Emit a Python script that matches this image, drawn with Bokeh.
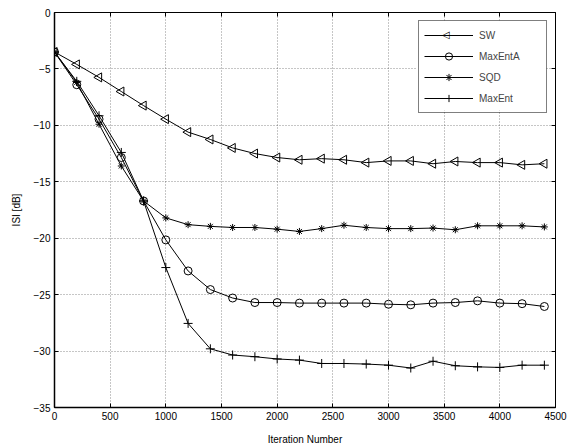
import numpy as np
from bokeh.plotting import figure
from bokeh.models import (FixedTicker, LinearAxis, CustomJSTickFormatter, Legend,
                          Range1d, Label, BoxAnnotation)
from bokeh.embed import file_html
from bokeh.resources import INLINE

# ---- data ----
iterations = [0, 200, 400, 600, 800, 1000, 1200, 1400, 1600, 1800, 2000, 2200,
              2400, 2600, 2800, 3000, 3200, 3400, 3600, 3800, 4000, 4200, 4400]

sw = [-3.5, -4.6, -5.75, -7.0, -8.25, -9.45, -10.6, -11.25, -12.0, -12.5, -12.85,
      -13.05, -12.95, -13.05, -13.3, -13.15, -13.15, -13.4, -13.2, -13.3, -13.3,
      -13.5, -13.4]
maxenta = [-3.5, -6.4, -9.45, -12.85, -16.7, -20.15, -22.9, -24.55, -25.3, -25.7,
           -25.7, -25.75, -25.75, -25.75, -25.75, -25.85, -25.9, -25.75, -25.7,
           -25.55, -25.75, -25.8, -26.05]
sqd = [-3.5, -6.2, -9.9, -13.6, -16.7, -18.2, -18.8, -18.95, -19.05, -19.05, -19.2,
       -19.4, -19.15, -18.85, -19.05, -19.15, -19.15, -19.1, -19.25, -18.9, -18.9,
       -18.9, -19.0]
maxent = [-3.5, -6.1, -9.15, -12.4, -16.7, -22.6, -27.55, -29.8, -30.35, -30.5,
          -30.7, -30.8, -31.1, -31.1, -31.15, -31.25, -31.5, -30.9, -31.3, -31.4,
          -31.45, -31.25, -31.25]

x_ticks = [0, 500, 1000, 1500, 2000, 2500, 3000, 3500, 4000, 4500]
y_ticks = [-35, -30, -25, -20, -15, -10, -5, 0]

FONT = "Liberation Sans"

p = figure(frame_width=501, frame_height=395,
           min_border_left=54, min_border_right=12, min_border_top=12, min_border_bottom=40,
           x_range=Range1d(0, 4500), y_range=Range1d(-35, 0),
           output_backend="svg", toolbar_location=None)
p.background_fill_color = "white"
p.border_fill_color = "white"
p.outline_line_color = "black"
p.outline_line_width = 1

minus_fmt = CustomJSTickFormatter(code="return tick < 0 ? '\\u2212' + (-tick) : String(tick);")
blank_fmt = CustomJSTickFormatter(code="return '';")

for ax in (p.xaxis[0], p.yaxis[0]):
    ax.major_tick_in = 4
    ax.major_tick_out = 0
    ax.minor_tick_in = 0
    ax.minor_tick_out = 0
    ax.axis_line_color = "black"
    ax.axis_line_width = 1.5
    ax.major_tick_line_color = "black"
    ax.major_label_text_font = FONT
    ax.major_label_text_font_size = "10px"
    ax.major_label_text_color = "black"
    ax.axis_label_text_font = FONT
    ax.axis_label_text_font_size = "10px"
    ax.axis_label_text_font_style = "normal"
    ax.axis_label_text_color = "black"

p.xaxis[0].ticker = FixedTicker(ticks=x_ticks)
p.yaxis[0].ticker = FixedTicker(ticks=y_ticks)
p.yaxis[0].formatter = minus_fmt
p.xaxis[0].axis_label = "Iteration Number"
p.yaxis[0].axis_label = "ISI [dB]"
p.xaxis[0].major_label_standoff = 4
p.xaxis[0].axis_label_standoff = 11
p.yaxis[0].major_label_standoff = 4
p.yaxis[0].axis_label_standoff = 9

# inward ticks on top and right (box on)
top = LinearAxis(ticker=FixedTicker(ticks=x_ticks), formatter=blank_fmt)
right = LinearAxis(ticker=FixedTicker(ticks=y_ticks), formatter=blank_fmt)
for ax in (top, right):
    ax.major_tick_in = 4
    ax.major_tick_out = 0
    ax.minor_tick_in = 0
    ax.minor_tick_out = 0
    ax.axis_line_color = None
    ax.major_tick_line_color = "black"
    ax.major_label_text_font_size = "0px"
    ax.major_label_standoff = 0
p.add_layout(top, "above")
p.add_layout(right, "right")

for g in (p.xgrid[0], p.ygrid[0]):
    g.grid_line_color = "black"
    g.grid_line_alpha = 0.45
    g.grid_line_dash = "1 2"
    g.grid_line_width = 1
p.xgrid[0].ticker = FixedTicker(ticks=x_ticks)
p.ygrid[0].ticker = FixedTicker(ticks=y_ticks)

series = [
    ("SW", sw, dict(marker="triangle", size=9, angle=np.pi / 2)),
    ("MaxEntA", maxenta, dict(marker="circle", size=8)),
    ("SQD", sqd, dict(marker="asterisk", size=7)),
    ("MaxEnt", maxent, dict(marker="cross", size=9)),
]

items = []
for name, ys, mk in series:
    ln = p.line(iterations, ys, line_color="black", line_width=1)
    sc = p.scatter(iterations, ys, line_color="black", fill_color=None, line_width=1, **mk)
    # legend markers cannot be rotated: SW legend shows only its line, the
    # left-pointing marker is added as a text symbol below
    items.append((name, [ln] if name == "SW" else [ln, sc]))

# white background of the legend box (drawn as annotation so a symbol can sit on it)
legend_bg = BoxAnnotation(left=3252, right=4419, top=-0.71, bottom=-8.68,
                          fill_color="white", fill_alpha=1.0, line_color=None,
                          level="annotation")
p.add_layout(legend_bg)

# left-pointing triangle symbol for the SW legend glyph
tri = Label(x=3516, y=-1.95, text="\u25C1",
            text_font="DejaVu Sans", text_font_size="10px",
            text_align="center", text_baseline="middle", text_color="black")
p.add_layout(tri)

legend = Legend(items=items, location="top_right", margin=8, padding=5,
                glyph_width=49, glyph_height=18, label_height=18, label_width=62,
                label_standoff=6, spacing=3,
                label_text_font=FONT, label_text_font_size="10px",
                border_line_color="black", border_line_width=1,
                background_fill_color="white", background_fill_alpha=0.0)
p.add_layout(legend, "center")

open("out.html", "w").write(file_html(p, INLINE))
